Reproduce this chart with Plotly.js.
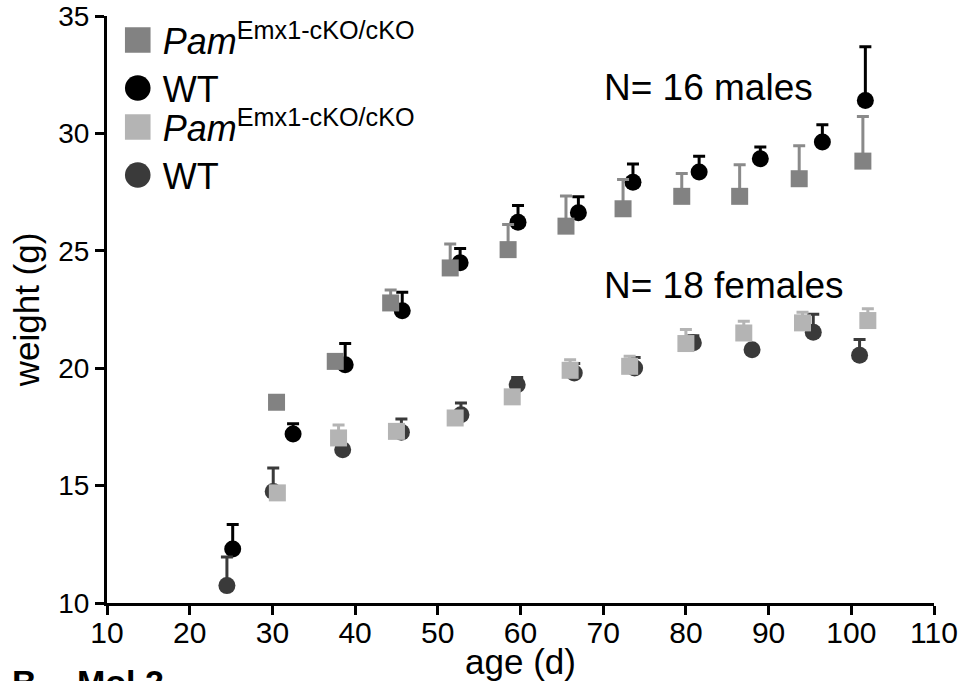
<!DOCTYPE html>
<html>
<head>
<meta charset="utf-8">
<script src="https://cdn.plot.ly/plotly-3.0.1.min.js"></script>
<style>
  html, body { margin: 0; padding: 0; background: #ffffff; }
  #chart { width: 968px; height: 681px; }
</style>
</head>
<body>
<div id="chart"></div>
<script>
// ---- Data ----
// Males, Pam Emx1-cKO/cKO (grey squares)
const malePamAge    = [30.5, 37.6, 44.3, 51.5, 58.5, 65.5, 72.4, 79.5, 86.5, 93.7, 101.4];
const malePamWeight = [18.55, 20.29, 22.78, 24.27, 25.05, 26.05, 26.79, 27.32, 27.32, 28.07, 28.82];
const malePamSEM    = [0.15, 0.15, 0.55, 1.02, 1.07, 1.28, 1.25, 0.97, 1.35, 1.40, 1.90];

// Males, WT (black circles)
const maleWtAge     = [25.2, 32.5, 38.8, 45.7, 52.7, 59.7, 67.0, 73.6, 81.6, 89.0, 96.5, 101.7];
const maleWtWeight  = [12.30, 17.20, 20.15, 22.45, 24.49, 26.22, 26.62, 27.92, 28.36, 28.92, 29.63, 31.40];
const maleWtSEM     = [1.04, 0.43, 0.90, 0.78, 0.61, 0.71, 0.68, 0.78, 0.67, 0.50, 0.74, 2.29];

// Females, Pam Emx1-cKO/cKO (light grey squares)
const femPamAge     = [30.6, 38.0, 45.0, 52.1, 59.0, 66.0, 73.2, 80.0, 87.0, 94.1, 102.0];
const femPamWeight  = [14.69, 17.03, 17.31, 17.88, 18.78, 19.91, 20.08, 21.05, 21.50, 21.93, 22.03];
const femPamSEM     = [0.15, 0.55, 0.15, 0.15, 0.15, 0.45, 0.43, 0.60, 0.50, 0.45, 0.50];

// Females, WT (dark grey circles)
const femWtAge      = [24.5, 30.1, 38.5, 45.6, 52.8, 59.6, 66.5, 73.8, 80.9, 88.0, 95.4, 101.0];
const femWtWeight   = [10.74, 14.75, 16.53, 17.27, 18.02, 19.30, 19.80, 20.01, 21.08, 20.79, 21.53, 20.55];
const femWtSEM      = [1.22, 1.00, 0.15, 0.57, 0.50, 0.30, 0.40, 0.45, 0.30, 0.15, 0.77, 0.67];

const pamLabel = '<i>Pam</i><sup>Emx1-cKO/cKO</sup>';
const wtLabel  = 'WT';

const FONT = 'Liberation Sans, Arial, Helvetica, sans-serif';

function errUp(vals, color) {
  return { type: 'data', symmetric: false, array: vals, arrayminus: vals.map(() => 0),
           color: color, thickness: 3, width: 6 };
}

const traces = [
  { x: maleWtAge, y: maleWtWeight, name: wtLabel, legendrank: 2, type: 'scatter', mode: 'markers',
    marker: { symbol: 'circle', size: 17, color: '#000000' }, error_y: errUp(maleWtSEM, '#000000') },
  { x: femWtAge, y: femWtWeight, name: wtLabel, legendrank: 4, type: 'scatter', mode: 'markers',
    marker: { symbol: 'circle', size: 17, color: '#3a3a3a' }, error_y: errUp(femWtSEM, '#3a3a3a') },
  { x: malePamAge, y: malePamWeight, name: pamLabel, legendrank: 1, type: 'scatter', mode: 'markers',
    marker: { symbol: 'square', size: 17, color: '#828282' }, error_y: errUp(malePamSEM, '#8a8a8a') },
  { x: femPamAge, y: femPamWeight, name: pamLabel, legendrank: 3, type: 'scatter', mode: 'markers',
    marker: { symbol: 'square', size: 17, color: '#b4b4b4' }, error_y: errUp(femPamSEM, '#b4b4b4') }
];

const layout = {
  width: 968, height: 681,
  margin: { l: 107, r: 34, t: 16, b: 78 },
  paper_bgcolor: '#ffffff', plot_bgcolor: '#ffffff',
  font: { family: FONT, color: '#000000' },
  showlegend: true,
  legend: { x: 0.013, y: 1.0, xanchor: 'left', yanchor: 'top', bgcolor: 'rgba(0,0,0,0)',
            font: { family: FONT, size: 36, color: '#000000' }, tracegroupgap: 0, itemsizing: 'trace' },
  xaxis: {
    range: [10, 110], tickmode: 'linear', tick0: 10, dtick: 10,
    showgrid: false, zeroline: false, showline: true, linecolor: '#000000', linewidth: 3,
    ticks: 'outside', ticklen: 9, tickwidth: 3, tickcolor: '#000000',
    tickfont: { family: FONT, size: 30, color: '#000000' },
    ticklabelstandoff: -8,
    title: { text: 'age (d)', font: { family: FONT, size: 35, color: '#000000' }, standoff: 0 },
    automargin: false
  },
  yaxis: {
    range: [10, 35], tickmode: 'linear', tick0: 10, dtick: 5,
    showgrid: false, zeroline: false, showline: true, linecolor: '#000000', linewidth: 3,
    ticks: 'outside', ticklen: 9, tickwidth: 3, tickcolor: '#000000',
    tickfont: { family: FONT, size: 28, color: '#000000' },
    title: { text: 'weight (g)', font: { family: FONT, size: 35, color: '#000000' }, standoff: 8 },
    automargin: false
  },
  annotations: [
    { xref: 'paper', yref: 'paper', x: 0.598, y: 0.878, xanchor: 'left', yanchor: 'middle',
      text: 'N= 16 males', showarrow: false, font: { family: FONT, size: 37, color: '#000000' } },
    { xref: 'paper', yref: 'paper', x: 0.598, y: 0.541, xanchor: 'left', yanchor: 'middle',
      text: 'N= 18 females', showarrow: false, font: { family: FONT, size: 37, color: '#000000' } },
    { xref: 'paper', yref: 'paper', x: -0.117, y: -0.098, xanchor: 'left', yanchor: 'top',
      text: '<b>B</b>', showarrow: false, font: { family: FONT, size: 34, color: '#000000' } },
    { xref: 'paper', yref: 'paper', x: -0.039, y: -0.098, xanchor: 'left', yanchor: 'top',
      text: '<b>Mol 2</b>', showarrow: false, font: { family: FONT, size: 34, color: '#000000' } }
  ]
};

Plotly.newPlot('chart', traces, layout, { displayModeBar: false, staticPlot: true }).then(function () {
  // enlarge legend symbols to match the reference's larger key markers
  document.querySelectorAll('.legend .legendpoints path.scatterpts').forEach(function (p) {
    const t = p.getAttribute('transform') || '';
    if (t.indexOf('scale') === -1) p.setAttribute('transform', t + ' scale(1.6)');
  });
  // tighten legend rows to the reference spacing
  const rowOffsets = [0, 48, 87, 135];
  const items = Array.from(document.querySelectorAll('.legend .traces'));
  const parse = el => {
    const m = /translate\(\s*([-\d.]+)[ ,]+([-\d.]+)\s*\)/.exec(el.getAttribute('transform') || '');
    return m ? [parseFloat(m[1]), parseFloat(m[2])] : [0, 0];
  };
  if (items.length === 4) {
    const firstPt = items[0].querySelector('.legendpoints path');
    let shift = 0;
    if (firstPt) {
      const r = firstPt.getBoundingClientRect();
      shift = 40 - (r.top + r.height / 2);
    }
    const y0 = parse(items[0])[1];
    items.forEach(function (it, i) {
      const xy = parse(it);
      it.setAttribute('transform', 'translate(' + xy[0] + ',' + (y0 + rowOffsets[i] + shift) + ')');
      const tx = it.querySelector('text.legendtext');
      if (tx) tx.setAttribute('x', '45');
    });
  }
});
</script>
</body>
</html>
